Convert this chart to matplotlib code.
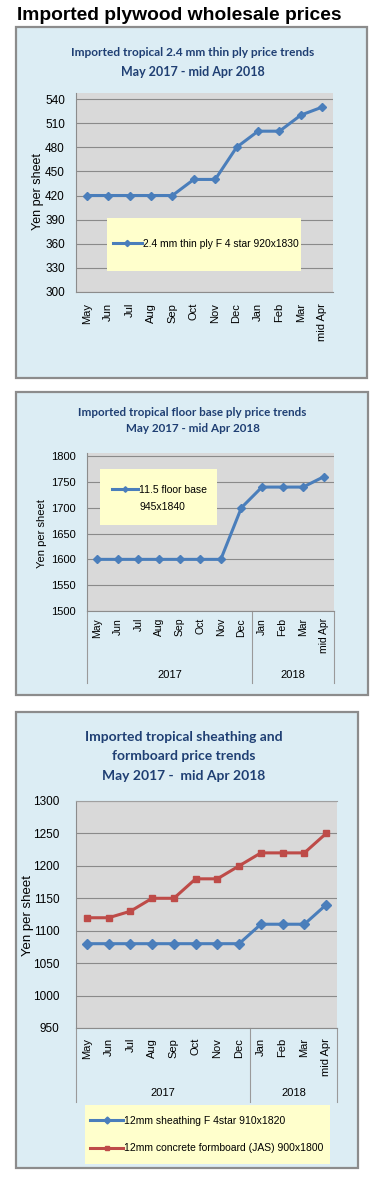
import matplotlib
matplotlib.use("Agg")
import matplotlib.pyplot as plt
from matplotlib.patches import Rectangle
from matplotlib.transforms import blended_transform_factory

# Data
months = ["May", "Jun", "Jul", "Aug", "Sep", "Oct", "Nov", "Dec",
          "Jan", "Feb", "Mar", "mid Apr"]
years = ["2017", "2018"]

thin_ply = [420, 420, 420, 420, 420, 440, 440, 480, 500, 500, 520, 530]
floor_base = [1600, 1600, 1600, 1600, 1600, 1600, 1600, 1700, 1740, 1740, 1740, 1760]
sheathing = [1080, 1080, 1080, 1080, 1080, 1080, 1080, 1080, 1110, 1110, 1110, 1140]
formboard = [1120, 1120, 1130, 1150, 1150, 1180, 1180, 1200, 1220, 1220, 1220, 1250]

W, H = 381, 1180
BOX_BG = "#DCEDF4"
PLOT_BG = "#D9D9D9"
GRID = "#8A8A8A"
TITLE_C = "#1F3F73"
BLUE = "#4A7EBB"
RED = "#BE4B48"
LEG_BG = "#FFFFCC"
TICK_FONT = ["Liberation Sans", "DejaVu Sans"]
TITLE_FONT = ["Lato", "DejaVu Sans"]

fig = plt.figure(figsize=(W / 100, H / 100), dpi=100)
fig.patch.set_facecolor("white")


def rect(x0, y0, x1, y1):
    return [x0 / W, 1 - y1 / H, (x1 - x0) / W, (y1 - y0) / H]


def fx(x):
    return x / W


def fy(y):
    return 1 - y / H


def box(x0, y0, x1, y1):
    fig.add_artist(Rectangle((fx(x0), fy(y1)), (x1 - x0) / W, (y1 - y0) / H,
                             transform=fig.transFigure, facecolor=BOX_BG,
                             edgecolor="#8C8C8C", lw=1.6, zorder=0))


def setup_axes(pos, ylim, yticks, pad_y, pad_x, fs=8):
    ax = fig.add_axes(rect(*pos))
    ax.set_facecolor(PLOT_BG)
    ax.set_xlim(-0.5, 11.5)
    ax.set_ylim(*ylim)
    ax.set_yticks(yticks)
    ax.set_xticks(range(len(months)))
    ax.set_xticklabels(months, rotation=90, va="top", ha="center",
                       fontsize=fs, family=TICK_FONT)
    for lab in ax.get_yticklabels():
        lab.set_fontsize(fs + 0.5)
        lab.set_family(TICK_FONT)
    ax.tick_params(axis="both", length=0)
    ax.tick_params(axis="y", pad=pad_y)
    ax.tick_params(axis="x", pad=pad_x)
    ax.grid(axis="y", color=GRID, lw=0.8)
    ax.set_axisbelow(True)
    for s in ["top", "right"]:
        ax.spines[s].set_visible(False)
    for s in ["left", "bottom"]:
        ax.spines[s].set_color("#8C8C8C")
        ax.spines[s].set_linewidth(0.8)
    return ax


def year_groups(ax, depth, label_y):
    tr = blended_transform_factory(ax.transData, ax.transAxes)
    for xv in [-0.5, 7.5, 11.5]:
        ax.plot([xv, xv], [0, -depth], transform=tr, color="#9A9A9A",
                lw=0.8, clip_on=False)
    ax.text(3.5, -label_y, years[0], transform=tr, ha="center", va="center",
            fontsize=8, family=TICK_FONT)
    ax.text(9.5, -label_y, years[1], transform=tr, ha="center", va="center",
            fontsize=8, family=TICK_FONT)


def legend_bg(ax, x0, y0, x1, y1):
    ax.add_patch(Rectangle((fx(x0), fy(y1)), (x1 - x0) / W, (y1 - y0) / H,
                           transform=fig.transFigure, facecolor=LEG_BG,
                           edgecolor="none", zorder=4, clip_on=False))


# Main title
fig.text(fx(17), fy(15), "Imported plywood wholesale prices", ha="left",
         va="center", fontsize=13.9, fontweight="bold",
         family=["Liberation Sans", "DejaVu Sans"])

# ---- Panel 1 ----
box(16, 27, 367, 378)
fig.text(fx(193), fy(53), "Imported tropical 2.4 mm thin ply price trends",
         ha="center", va="center", fontsize=8.6, fontweight="bold",
         color=TITLE_C, family=TITLE_FONT)
fig.text(fx(193), fy(72), "May 2017 - mid Apr 2018", ha="center",
         va="center", fontsize=9, fontweight="bold", color=TITLE_C,
         family=TITLE_FONT)
ax1 = setup_axes((76, 93, 333, 292), (300, 547.5), range(300, 541, 30), 8, 8)
ax1.plot(range(len(months)), thin_ply, color=BLUE, lw=2.2, marker="D",
         ms=4.5, zorder=3, label="2.4 mm thin ply F 4 star 920x1830")
fig.text(fx(38), fy(192), "Yen per sheet", rotation=90, ha="center",
         va="center", fontsize=9, family=TICK_FONT)
legend_bg(ax1, 107, 218, 301, 271)
leg = ax1.legend(loc="center left", bbox_to_anchor=(fx(113), fy(244)),
                 bbox_transform=fig.transFigure, frameon=False,
                 handlelength=2.8, handletextpad=0.1, borderpad=0,
                 borderaxespad=0, markerscale=0.7,
                 prop={"family": TICK_FONT, "size": 7.4})
leg.set_zorder(5)

# ---- Panel 2 ----
box(16, 392, 368, 695)
fig.text(fx(192.5), fy(412), "Imported tropical floor base ply price trends",
         ha="center", va="center", fontsize=8.4, fontweight="bold",
         color=TITLE_C, family=TITLE_FONT)
fig.text(fx(192.5), fy(429), "May 2017 - mid Apr 2018", ha="center",
         va="center", fontsize=8.4, fontweight="bold", color=TITLE_C,
         family=TITLE_FONT)
ax2 = setup_axes((87, 453, 334, 611), (1500, 1806), range(1500, 1801, 50), 8, 5, fs=7.5)
ax2.plot(range(len(months)), floor_base, color=BLUE, lw=2.2, marker="D",
         ms=4, zorder=3, label="11.5 floor base")
fig.text(fx(42), fy(534), "Yen per sheet", rotation=90, ha="center",
         va="center", fontsize=8, family=TICK_FONT)
year_groups(ax2, 72 / 158, 64 / 158)
legend_bg(ax2, 100, 469, 217, 525)
leg = ax2.legend(loc="center left", bbox_to_anchor=(fx(112), fy(490)),
                 bbox_transform=fig.transFigure, frameon=False,
                 handlelength=2.5, handletextpad=0.1, borderpad=0,
                 borderaxespad=0, markerscale=0.7,
                 prop={"family": TICK_FONT, "size": 7.5})
leg.set_zorder(5)
ax2.text(fx(140), fy(507), "945x1840", transform=fig.transFigure, ha="left",
         va="center", fontsize=7.5, family=TICK_FONT, zorder=6)

# ---- Panel 3 ----
box(16, 712, 358, 1168)
for txt, yy in [("Imported tropical sheathing and", 737),
                ("formboard price trends", 756),
                ("May 2017 -  mid Apr 2018", 776)]:
    fig.text(fx(184), fy(yy), txt, ha="center", va="center", fontsize=10,
             fontweight="bold", color=TITLE_C, family=TITLE_FONT)
ax3 = setup_axes((76, 801, 337, 1028), (950, 1300), range(950, 1301, 50), 12, 7)
ax3.spines["top"].set_visible(True)
ax3.spines["top"].set_color("#A0A0A0")
ax3.plot(range(len(months)), sheathing, color=BLUE, lw=2.2, marker="D",
         ms=5, zorder=3, label="12mm sheathing F 4star 910x1820")
ax3.plot(range(len(months)), formboard, color=RED, lw=2.2, marker="s",
         ms=4.5, zorder=3, label="12mm concrete formboard (JAS) 900x1800")
fig.text(fx(28), fy(915), "Yen per sheet", rotation=90, ha="center",
         va="center", fontsize=9.5, family=TICK_FONT)
year_groups(ax3, 74 / 227, 65 / 227)
legend_bg(ax3, 85, 1105, 330, 1164)
leg = ax3.legend(loc="center left", bbox_to_anchor=(fx(90), fy(1134.5)),
                 bbox_transform=fig.transFigure, frameon=False,
                 handlelength=3.2, handletextpad=0.1, borderpad=0,
                 borderaxespad=0, labelspacing=1.7, markerscale=0.7,
                 prop={"family": TICK_FONT, "size": 7.5})
leg.set_zorder(5)

fig.savefig("out.png", dpi=100)
